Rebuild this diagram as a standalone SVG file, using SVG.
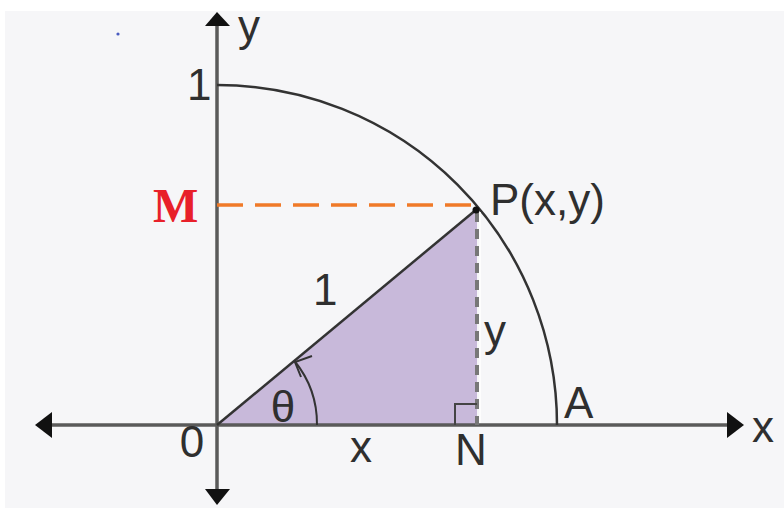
<svg xmlns="http://www.w3.org/2000/svg" width="784" height="508" viewBox="0 0 784 508">
<style>
.lbl{font-family:"Liberation Sans",Arial,sans-serif;font-size:44px;fill:#2f2f2f}
.axis{stroke:#5a5a5a;stroke-width:3.5;fill:none}
.head{fill:#111}
</style>
<rect x="0" y="0" width="784" height="508" fill="#ffffff"/>
<rect x="5" y="11" width="779" height="497" fill="#f6f6f8"/>
<circle cx="118" cy="34" r="1.6" fill="#4a5cc0"/>
<g id="triangle">
<polygon points="217,425 477,209 477,425" fill="#c8b9da"/>
</g>
<g id="connectors">
<line class="axis" x1="50" y1="425" x2="729" y2="425"/>
<line class="axis" x1="217" y1="24" x2="217" y2="491"/>
<polygon class="head" points="217,12 205,26 230,26"/>
<polygon class="head" points="205,489 230,489 217,505"/>
<polygon class="head" points="727,412 744,425 727,438"/>
<polygon class="head" points="52,412 35,425 52,438"/>
<path d="M217 85 A340 340 0 0 1 557 425" fill="none" stroke="#333" stroke-width="2.5"/>
<line x1="217" y1="205" x2="477" y2="205" stroke="#f07a28" stroke-width="3.5" stroke-dasharray="26 12"/>
<line x1="480" y1="212" x2="480" y2="423" stroke="#ffffff" stroke-width="1.5"/>
<line x1="477" y1="212" x2="477" y2="425" stroke="#777" stroke-width="4" stroke-dasharray="10 7"/>
<line x1="217" y1="425" x2="477" y2="209" stroke="#333" stroke-width="2.5"/>
<path d="M455 425 V404 H477" fill="none" stroke="#444" stroke-width="2"/>
<path d="M317 425 A100 100 0 0 0 294.5 361" fill="none" stroke="#333" stroke-width="2"/>
<path d="M312 356 L295 362 L301 377" fill="none" stroke="#333" stroke-width="2"/>
<circle cx="476" cy="210" r="3.5" fill="#111"/>
</g>
<g id="labels">
<text class="lbl" x="238" y="41" font-size="40">y</text>
<text class="lbl" x="187" y="100">1</text>
<text x="153" y="222" font-family="'Liberation Serif',serif" font-weight="bold" font-size="48" fill="#e8202a">M</text>
<text class="lbl" x="490" y="215">P(x,y)</text>
<text class="lbl" x="313" y="305">1</text>
<text class="lbl" x="484" y="346">y</text>
<text class="lbl" x="564" y="418">A</text>
<text class="lbl" x="752" y="442">x</text>
<text class="lbl" x="283" y="422" text-anchor="middle" font-size="40">θ</text>
<text class="lbl" x="192" y="457" text-anchor="middle" font-size="35">0</text>
<text class="lbl" x="361" y="462" text-anchor="middle">x</text>
<text class="lbl" x="455" y="465">N</text>
</g>
</svg>
